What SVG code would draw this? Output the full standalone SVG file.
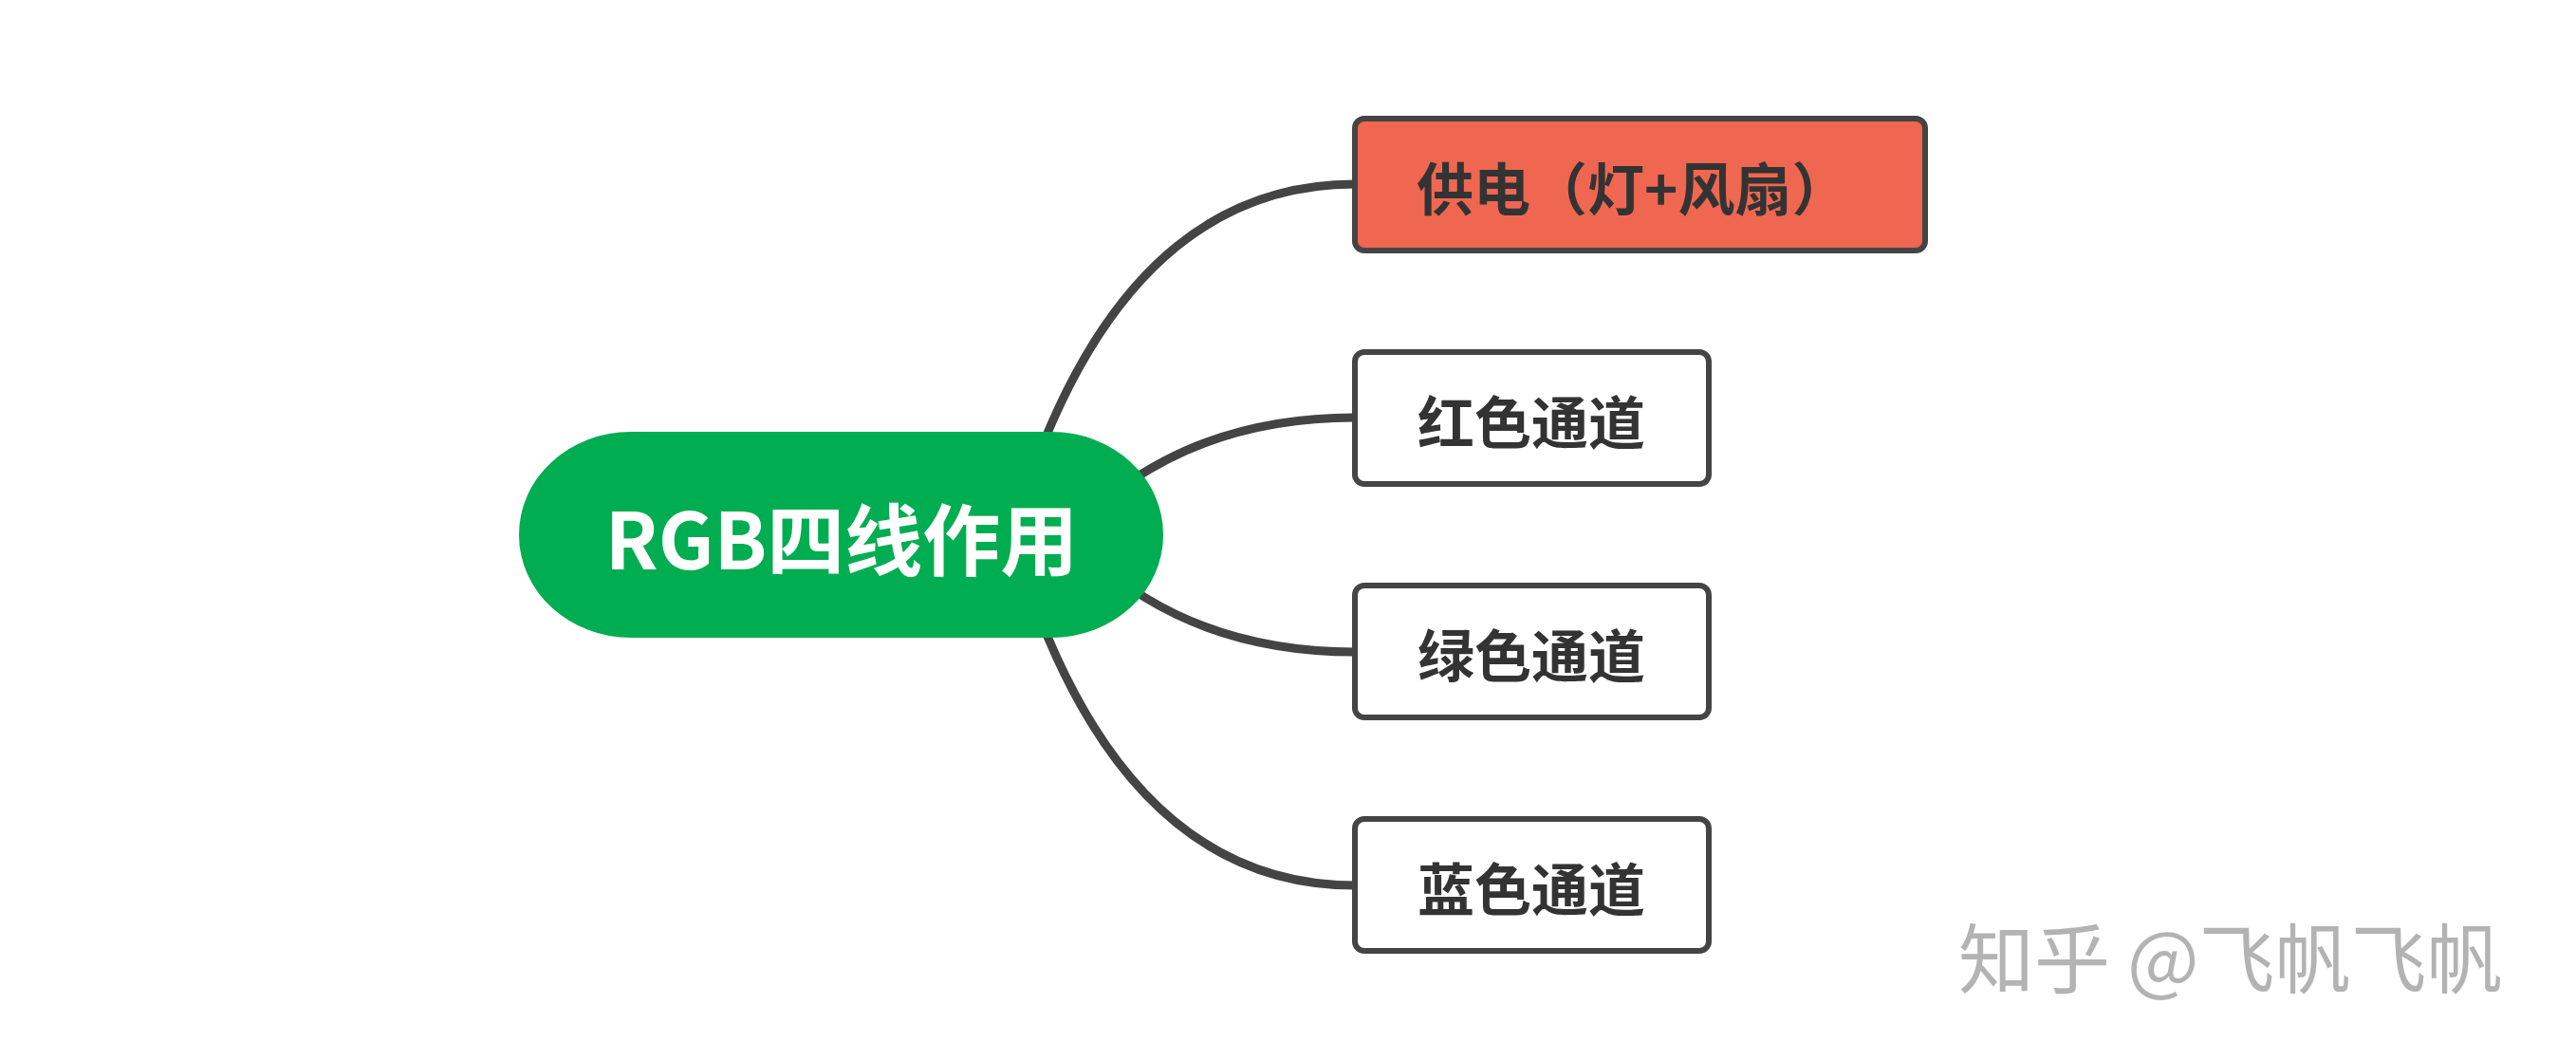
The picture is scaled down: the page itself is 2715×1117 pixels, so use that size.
<svg xmlns="http://www.w3.org/2000/svg" width="2715" height="1117" viewBox="0 0 2715 1117">
<style>
.conn{fill:none;stroke:#444444;stroke-width:9;stroke-linecap:round}
.box{fill:#ffffff;stroke:#444444;stroke-width:6}
.lbl{font-family:"Noto Sans CJK SC","Noto Sans",sans-serif;font-weight:700;font-size:60px;fill:#333333}
.root{font-family:"Noto Sans CJK SC","Noto Sans",sans-serif;font-weight:700;font-size:82px;fill:#ffffff}
.wm{font-family:"Noto Sans CJK SC","Noto Sans",sans-serif;font-size:80px;fill:#b3b3b3}
</style>
<rect width="2715" height="1117" fill="#ffffff"/>
<g id="connectors">
<path class="conn" d="M1080,520 Q1190,194 1428,194"/>
<path class="conn" d="M1150,540 Q1260,440 1428,440"/>
<path class="conn" d="M1150,587 Q1260,687 1428,687"/>
<path class="conn" d="M1080,607 Q1190,933 1428,933"/>
</g>
<g id="root">
<rect x="547" y="455" width="679" height="217" rx="118" ry="108" fill="#00AD50"/>
<text class="root" x="887" y="564" text-anchor="middle" dominant-baseline="central">RGB四线作用</text>
</g>
<g id="power">
<rect class="box" x="1428" y="125" width="601" height="139" rx="10" style="fill:#EF6751"/>
<text class="lbl" x="1493" y="195" dominant-baseline="central">供电（灯+风扇）</text>
</g>
<g id="red">
<rect class="box" x="1428" y="371" width="373" height="139" rx="10"/>
<text class="lbl" x="1614" y="441" text-anchor="middle" dominant-baseline="central">红色通道</text>
</g>
<g id="green">
<rect class="box" x="1428" y="617" width="373" height="139" rx="10"/>
<text class="lbl" x="1614" y="687" text-anchor="middle" dominant-baseline="central">绿色通道</text>
</g>
<g id="blue">
<rect class="box" x="1428" y="863" width="373" height="139" rx="10"/>
<text class="lbl" x="1614" y="933" text-anchor="middle" dominant-baseline="central">蓝色通道</text>
</g>
<g id="watermark">
<text class="wm" x="2064" y="1005" dominant-baseline="central">知乎 @飞帆飞帆</text>
</g>
</svg>
